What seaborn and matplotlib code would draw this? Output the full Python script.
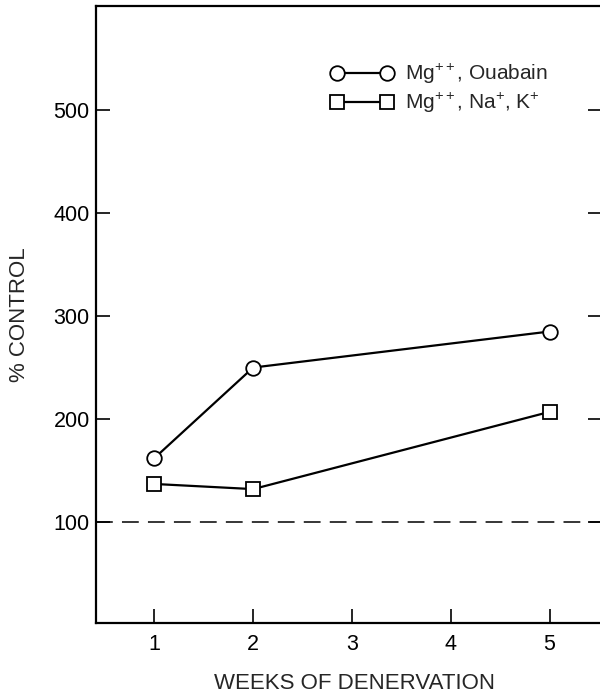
import matplotlib
matplotlib.use("Agg")
import matplotlib.pyplot as plt
import pandas as pd
import seaborn as sns

# values
weeks = [1, 2, 5]
ouabain = [162, 250, 285]
na_k = [137, 132, 207]
series_names = ["ouabain", "na_k"]
legend_labels = [r"Mg$^{++}$, Ouabain", r"Mg$^{++}$, Na$^{+}$, K$^{+}$"]
yticks = [100, 200, 300, 400, 500]
xticks = [1, 2, 3, 4, 5]
control = 100

df = pd.DataFrame({
    "week": weeks * 2,
    "pct": ouabain + na_k,
    "series": [series_names[0]] * len(weeks) + [series_names[1]] * len(weeks),
})

sns.set_theme(style="ticks")
plt.rcParams["font.family"] = ["Liberation Sans", "DejaVu Sans"]
plt.rcParams["mathtext.fontset"] = "custom"
plt.rcParams["mathtext.rm"] = "Liberation Sans"
plt.rcParams["mathtext.it"] = "Liberation Sans"
plt.rcParams["mathtext.bf"] = "Liberation Sans"

fig = plt.figure(figsize=(6, 6.93), dpi=100)
ax = fig.add_axes([0.16, 0.101, 0.8433, 0.8903])

sns.lineplot(data=df, x="week", y="pct", style="series",
             markers={"ouabain": "o", "na_k": "s"}, dashes=False,
             color="black", linewidth=1.6, markersize=10.5,
             markerfacecolor="white", markeredgecolor="black",
             markeredgewidth=1.3, legend=False, ax=ax)
handles = list(ax.get_lines()[:2])

ax.axhline(control, color="black", linewidth=1.1, dashes=(11, 6))

ax.set_xlim(0.41, 5.53)
ax.set_ylim(2, 601)
ax.set_xticks(xticks)
ax.set_yticks(yticks)
ax.tick_params(axis="both", direction="in", length=10, width=1.2,
               labelsize=15.5, colors="black")
ax.tick_params(axis="y", right=True, pad=4.5)
ax.tick_params(axis="x", pad=8)
for side in ["left", "bottom", "top", "right"]:
    ax.spines[side].set_linewidth(1.6)
    ax.spines[side].set_color("black")

ax.set_xlabel("WEEKS OF DENERVATION", fontsize=16, va="top")
ax.set_ylabel("% CONTROL", fontsize=16, va="bottom")
ax.xaxis.set_label_coords(0.51, -0.081)
ax.yaxis.set_label_coords(-0.13, 0.5)

ax.legend(handles, legend_labels, loc="upper left",
          bbox_to_anchor=(331 / 600, 1 - 62 / 693),
          bbox_transform=fig.transFigure, frameon=False, numpoints=2,
          fontsize=15, handlelength=3.0, handletextpad=0.57,
          labelspacing=0.25, borderpad=0, borderaxespad=0)

fig.savefig("out.png", dpi=100)
